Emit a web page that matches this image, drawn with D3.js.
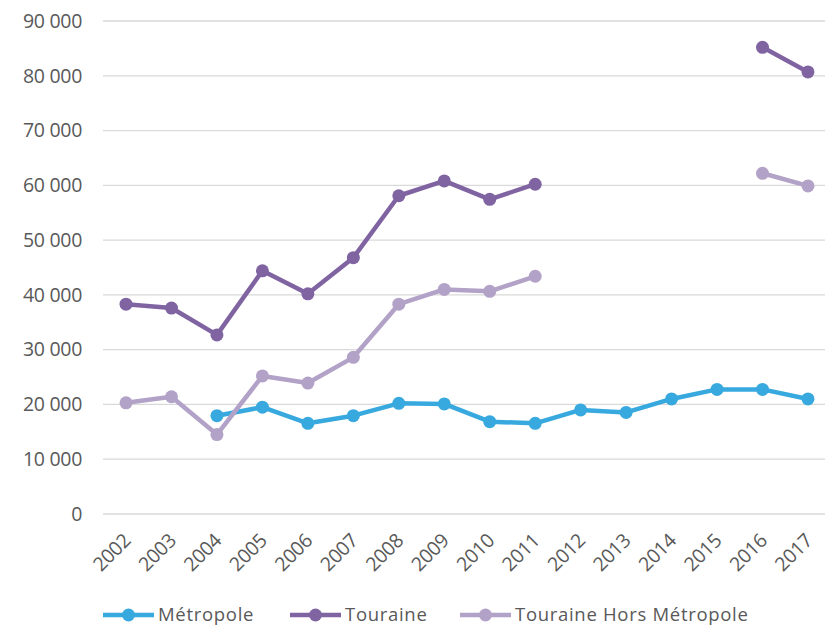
<!DOCTYPE html>
<html>
<head>
<meta charset="utf-8">
<script src="https://cdn.jsdelivr.net/npm/d3@7"></script>
<style>
  body { margin: 0; background: #fff; }
  text { font-family: "Open Sans", sans-serif; fill: #595959; }
</style>
</head>
<body>
<svg id="chart" width="825" height="627"></svg>
<script>
var years = ["2002","2003","2004","2005","2006","2007","2008","2009","2010","2011","2012","2013","2014","2015","2016","2017"];
var metropole = [null, null, 17950, 19500, 16550, 17950, 20200, 20100, 16850, 16550, 19000, 18550, 21000, 22750, 22750, 21000];
var touraine = [38300, 37600, 32700, 44400, 40200, 46800, 58100, 60800, 57450, 60200, null, null, null, null, 85200, 80700];
var horsMetropole = [20300, 21400, 14500, 25200, 23900, 28600, 38300, 41000, 40650, 43400, null, null, null, null, 62200, 59900];
var yTicks = [0, 10000, 20000, 30000, 40000, 50000, 60000, 70000, 80000, 90000];

var series = [
  {name: "Métropole", values: metropole, color: "#38A9DF", legendX: 103},
  {name: "Touraine", values: touraine, color: "#8064A2", legendX: 290},
  {name: "Touraine Hors Métropole", values: horsMetropole, color: "#B3A2C7", legendX: 460}
];

var svg = d3.select("#chart");

var x = d3.scaleBand().domain(years).range([103.3, 830.7]);
var y = d3.scaleLinear().domain([0, 90000]).range([514, 21]);

function fmt(v) {
    return d3.format(",")(v).replace(/,/g, " ");
}

// gridlines
svg.append("g")
  .selectAll("line")
  .data(yTicks)
  .enter()
  .append("line")
    .attr("x1", 103)
    .attr("x2", 825)
    .attr("y1", function(d) { return y(d); })
    .attr("y2", function(d) { return y(d); })
    .attr("stroke", "#D9D9D9")
    .attr("stroke-width", 1.3);

// y labels
svg.append("g")
  .selectAll("text")
  .data(yTicks)
  .enter()
  .append("text")
    .attr("x", 82)
    .attr("y", function(d) { return y(d); })
    .attr("dy", "0.35em")
    .attr("text-anchor", "end")
    .style("font-size", "19.5px")
    .style("letter-spacing", "-0.3px")
    .text(fmt);

// x labels, rotated
svg.append("g")
  .selectAll("text")
  .data(years)
  .enter()
  .append("text")
    .attr("transform", function(d) {
      return "translate(" + (x(d) + x.bandwidth() / 2 + 1) + ",537) rotate(-45)";
    })
    .attr("text-anchor", "end")
    .attr("dy", "0.35em")
    .style("font-size", "19.5px")
    .style("letter-spacing", "-0.3px")
    .text(function(d) { return d; });

var line = d3.line()
  .defined(function(d) { return d != null; })
  .x(function(d, i) { return x(years[i]) + x.bandwidth() / 2; })
  .y(function(d) { return y(d); });

series.forEach(function(s) {
    var g = svg.append("g");
    g.append("path")
      .datum(s.values)
      .attr("d", line)
      .attr("fill", "none")
      .attr("stroke", s.color)
      .attr("stroke-width", 4.5)
      .attr("stroke-linejoin", "round");
    g.selectAll("circle")
      .data(s.values.map(function(v, i) { return [years[i], v]; }).filter(function(d) { return d[1] != null; }))
      .enter()
      .append("circle")
        .attr("cx", function(d) { return x(d[0]) + x.bandwidth() / 2; })
        .attr("cy", function(d) { return y(d[1]); })
        .attr("r", 6.5)
        .attr("fill", s.color);
});

// legend
var legend = svg.append("g").selectAll("g")
  .data(series)
  .enter()
  .append("g")
    .attr("transform", function(d) { return "translate(" + d.legendX + ",615)"; });
legend.append("line")
  .attr("x1", 0).attr("x2", 51)
  .attr("stroke", function(d) { return d.color; })
  .attr("stroke-width", 4.5);
legend.append("circle")
  .attr("cx", 25.5).attr("r", 6.5)
  .attr("fill", function(d) { return d.color; });
legend.append("text")
  .attr("x", 55)
  .attr("dy", "0.35em")
  .style("font-size", "18.5px")
  .style("letter-spacing", "0.7px")
  .text(function(d) { return d.name; });
</script>
</body>
</html>
